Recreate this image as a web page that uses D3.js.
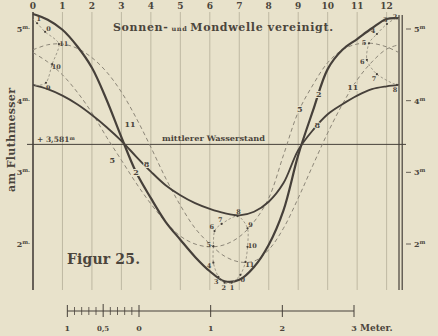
<!DOCTYPE html>
<html>
<head>
<meta charset="utf-8">
<script src="https://cdn.jsdelivr.net/npm/d3@7"></script>
<style>
  html, body { margin: 0; padding: 0; background: #e8e2cb; }
  svg { display: block; }
  text { font-family: "DejaVu Serif", "Liberation Serif", serif; fill: #4b453c; }
</style>
</head>
<body>
<div id="chart"></div>
<script>
// hours of the half lunar day (0 .. 12h 25m)
const hourTicks = [0, 1, 2, 3, 4, 5, 6, 7, 8, 9, 10, 11, 12];
const dayEnd = 12.42;
const timeSteps = [0, 0.5, 1, 1.5, 2, 2.5, 3, 3.5, 4, 4.5, 5, 5.5, 6, 6.5, 7, 7.5, 8, 8.5, 9, 9.5, 10, 10.5, 11, 11.5, 12, 12.42];
const levelTicks = [5, 4, 3, 2];

// water level (m, am Fluthmesser) for sun phases 2, 5, 8, 11
const phase2 = [5.21, 5.13, 4.99, 4.76, 4.46, 4.01, 3.49, 3.00, 2.64, 2.31, 2.06, 1.82, 1.62, 1.48, 1.50, 1.68, 1.99, 2.47, 3.24, 3.86, 4.44, 4.71, 4.86, 5.01, 5.14, 5.15];
const phase8 = [4.22, 4.16, 4.07, 3.95, 3.80, 3.63, 3.44, 3.22, 3.01, 2.82, 2.68, 2.57, 2.49, 2.43, 2.40, 2.45, 2.59, 2.85, 3.31, 3.59, 3.81, 3.95, 4.07, 4.16, 4.20, 4.22];
const phase5 = [4.67, 4.54, 4.36, 4.12, 3.83, 3.49, 3.17, 2.85, 2.56, 2.31, 2.11, 2.00, 1.96, 1.99, 2.10, 2.31, 2.64, 3.24, 3.84, 4.22, 4.53, 4.71, 4.79, 4.80, 4.75, 4.67];
const phase11 = [4.71, 4.78, 4.79, 4.73, 4.60, 4.40, 4.12, 3.76, 3.35, 2.92, 2.54, 2.22, 2.00, 1.83, 1.75, 1.76, 1.92, 2.22, 2.64, 3.10, 3.55, 3.95, 4.29, 4.54, 4.72, 4.78];

const meanLevel = 3.39;
const meanLabel = '+ 3,581';

// high / low water positions for sun phases 0..11
const loopNumbers = [0, 1, 2, 3, 4, 5, 6, 7, 8, 9, 10, 11];
const highHours = [0.41, 0.14, -0.07, -0.41, -0.75, -1.02, -1.09, -0.75, -0.07, 0.44, 0.65, 0.88];
const highLevels = [4.96, 5.08, 5.15, 5.07, 4.93, 4.80, 4.57, 4.37, 4.22, 4.25, 4.51, 4.79];
const lowHours = [7.04, 6.74, 6.50, 6.29, 6.12, 6.12, 6.16, 6.40, 6.94, 7.28, 7.28, 7.21];
const lowLevels = [1.57, 1.46, 1.46, 1.54, 1.74, 1.97, 2.18, 2.28, 2.39, 2.22, 1.96, 1.75];

// metre scale bar
const scaleMajor = [-1, 0, 1, 2, 3];
const scaleMajorLabels = ['1', '0', '1', '2', '3'];
const scaleMinor = [-0.9, -0.8, -0.7, -0.6, -0.4, -0.3, -0.2, -0.1];

const W = 438, H = 336;
const paper = '#e8e2cb', ink = '#46403a', grid = '#b4ad98', dash = '#8c8678';

const svg = d3.select('#chart').append('svg').attr('width', W).attr('height', H);
svg.append('rect').attr('width', W).attr('height', H).attr('fill', paper);

const x = d3.scaleLinear().domain([0, dayEnd]).range([33, 399]);
const y = d3.scaleLinear().domain([2, 5]).range([244, 29]);
const gTop = 12, gBottom = 290;

// vertical hour lines
svg.append('g').selectAll('line').data(hourTicks).join('line')
  .attr('x1', d => x(d)).attr('x2', d => x(d))
  .attr('y1', gTop).attr('y2', gBottom)
  .attr('stroke', d => d === 0 ? ink : grid)
  .attr('stroke-width', d => d === 0 ? 1.6 : 0.8);

// right double border
svg.append('g').selectAll('line').data([0, 3.2]).join('line')
  .attr('x1', d => x(dayEnd) + d).attr('x2', d => x(dayEnd) + d)
  .attr('y1', 15).attr('y2', gBottom)
  .attr('stroke', ink).attr('stroke-width', 1.2);

// hour labels
svg.append('g').selectAll('text').data(hourTicks).join('text')
  .attr('x', d => x(d)).attr('y', 9)
  .attr('text-anchor', 'middle').attr('font-size', 9).attr('font-weight', 'bold')
  .text(d => d);

// left level labels
const lt = svg.append('g').selectAll('text').data(levelTicks).join('text')
  .attr('x', 30).attr('y', d => y(d) + 3)
  .attr('text-anchor', 'end').attr('font-size', 8).attr('font-weight', 'bold');
lt.append('tspan').text(d => d);
lt.append('tspan').attr('font-size', 5.5).attr('dy', -3).text('m.');

// right level labels
svg.append('g').selectAll('line').data(levelTicks).join('line')
  .attr('x1', 406).attr('x2', 411).attr('y1', d => y(d)).attr('y2', d => y(d))
  .attr('stroke', ink).attr('stroke-width', 0.8);
const rt = svg.append('g').selectAll('text').data(levelTicks).join('text')
  .attr('x', 414).attr('y', d => y(d) + 3)
  .attr('font-size', 8).attr('font-weight', 'bold');
rt.append('tspan').text(d => d);
rt.append('tspan').attr('font-size', 5.5).attr('dy', -3).text('m');

// mean water level
svg.append('line')
  .attr('x1', 27).attr('x2', 406).attr('y1', y(meanLevel)).attr('y2', y(meanLevel))
  .attr('stroke', ink).attr('stroke-width', 1);
const ml = svg.append('text').attr('x', 37).attr('y', y(meanLevel) - 2)
  .attr('font-size', 7.5).attr('font-weight', 'bold');
ml.append('tspan').text(meanLabel);
ml.append('tspan').attr('font-size', 5).attr('dy', -2.5).text('m');
svg.append('text').attr('x', 162).attr('y', y(meanLevel) - 3)
  .attr('font-size', 7.5).attr('font-weight', 'bold')
  .attr('textLength', 103).attr('lengthAdjust', 'spacingAndGlyphs')
  .text('mittlerer Wasserstand');

// curves
const line = d3.line()
  .x((d, i) => x(timeSteps[i]))
  .y(d => y(d))
  .curve(d3.curveCatmullRom.alpha(0.5));

const curves = svg.append('g').attr('fill', 'none');
[phase5, phase11].forEach(s => {
  curves.append('path').attr('d', line(s))
    .attr('stroke', dash).attr('stroke-width', 1).attr('stroke-dasharray', '4,3');
});

// high / low water loops
svg.append('clipPath').attr('id', 'plot')
  .append('rect').attr('x', x(0)).attr('y', 0).attr('width', x(dayEnd) - x(0)).attr('height', H);
const loopLine = d3.line().curve(d3.curveCardinalClosed.tension(0.2));
const loops = svg.append('g').attr('clip-path', 'url(#plot)');
const marks = svg.append('g');
const highPts = loopNumbers.map((n, i) => [highHours[i], highLevels[i]]);
const lowPts = loopNumbers.map((n, i) => [lowHours[i], lowLevels[i]]);
[0, dayEnd].forEach(off => {
  loops.append('path')
    .attr('d', loopLine(highPts.map(p => [x(p[0] + off), y(p[1])])))
    .attr('fill', 'none').attr('stroke', dash).attr('stroke-width', 0.8).attr('stroke-dasharray', '2.5,2');
});
loops.append('path')
  .attr('d', loopLine(lowPts.map(p => [x(p[0]), y(p[1])])))
  .attr('fill', 'none').attr('stroke', dash).attr('stroke-width', 0.8).attr('stroke-dasharray', '2.5,2');

function drawLoopMarks(pts, offsets) {
  const cx = d3.mean(pts, p => p[0]), cy = d3.mean(pts, p => p[1]);
  offsets.forEach(off => {
    pts.forEach((p, i) => {
      const h = p[0] + off;
      if (h < 0 || h > dayEnd) return;
      const px = x(h), py = y(p[1]);
      const ang = Math.atan2(py - y(cy), px - x(cx + off));
      const lx = Math.max(x(0) + 4, Math.min(x(dayEnd) - 4, px + 5 * Math.cos(ang)));
      const ly = Math.max(gTop + 7, py + 5 * Math.sin(ang) + 2.5);
      marks.append('circle').attr('cx', px).attr('cy', py).attr('r', 1.1).attr('fill', ink);
      marks.append('text')
        .attr('x', lx).attr('y', ly)
        .attr('text-anchor', 'middle').attr('font-size', 6.5).attr('font-weight', 'bold')
        .text(loopNumbers[i]);
    });
  });
}
drawLoopMarks(highPts, [0, dayEnd]);
drawLoopMarks(lowPts, [0]);

// combined waves: spring (2) and neap (8)
curves.append('path').attr('d', line(phase2)).attr('stroke', ink).attr('stroke-width', 2.2);
curves.append('path').attr('d', line(phase8)).attr('stroke', ink).attr('stroke-width', 1.9);

// phase labels on the curves
function levelAt(s, h) {
  const i = Math.max(0, Math.min(d3.bisectRight(timeSteps, h) - 1, timeSteps.length - 2));
  const t = (h - timeSteps[i]) / (timeSteps[i + 1] - timeSteps[i]);
  return s[i] + (s[i + 1] - s[i]) * t;
}
const phaseSeries = [phase2, phase5, phase8, phase11];
const phaseNames = ['2', '5', '8', '11'];
const labelHoursLeft = [3.5, 3.0, 3.75, 3.6];
const labelHoursRight = [9.7, 9.05, 9.65, 10.85];
const labelShiftLeft = [0, -9, 3, -9];
phaseSeries.forEach((s, i) => {
  [[labelHoursLeft[i], labelShiftLeft[i]], [labelHoursRight[i], 0]].forEach(([h, dx]) => {
    svg.append('text')
      .attr('x', x(h) + dx).attr('y', y(levelAt(s, h)) + 3)
      .attr('text-anchor', 'middle').attr('font-size', 8).attr('font-weight', 'bold')
      .attr('stroke', paper).attr('stroke-width', 2).attr('paint-order', 'stroke')
      .text(phaseNames[i]);
  });
});

// title
const title = svg.append('text').attr('x', 113).attr('y', 31)
  .attr('font-weight', 'bold').attr('textLength', 220).attr('lengthAdjust', 'spacing');
title.append('tspan').attr('font-size', 11).text('Sonnen-');
title.append('tspan').attr('font-size', 6.5).text(' und ');
title.append('tspan').attr('font-size', 11).text('Mondwelle vereinigt.');

// axis title
svg.append('text')
  .attr('transform', 'translate(15,140) rotate(-90)')
  .attr('text-anchor', 'middle').attr('font-size', 11).attr('font-weight', 'bold')
  .attr('textLength', 104).attr('lengthAdjust', 'spacing')
  .text('am Fluthmesser');

// figure caption
svg.append('text').attr('x', 67).attr('y', 264)
  .attr('font-size', 14).attr('font-weight', 'bold')
  .attr('textLength', 73).attr('lengthAdjust', 'spacing')
  .text('Figur 25.');

// scale bar
const sx = d3.scaleLinear().domain([0, 1]).range([139, 139 + (y(2) - y(3))]);
const sb = svg.append('g').attr('stroke', ink);
const sy = 311;
sb.append('line').attr('x1', sx(-1)).attr('x2', sx(3)).attr('y1', sy).attr('y2', sy).attr('stroke-width', 1);
sb.selectAll('.maj').data(scaleMajor).join('line').attr('class', 'maj')
  .attr('x1', d => sx(d)).attr('x2', d => sx(d)).attr('y1', sy - 6).attr('y2', sy + 6).attr('stroke-width', 1);
sb.selectAll('.min').data(scaleMinor).join('line').attr('class', 'min')
  .attr('x1', d => sx(d)).attr('x2', d => sx(d)).attr('y1', sy - 4).attr('y2', sy + 4).attr('stroke-width', 0.8);
sb.append('line').attr('x1', sx(-0.5)).attr('x2', sx(-0.5)).attr('y1', sy - 7).attr('y2', sy + 6).attr('stroke-width', 1);
svg.append('g').selectAll('text').data(scaleMajor).join('text')
  .attr('x', d => sx(d)).attr('y', 331)
  .attr('text-anchor', 'middle').attr('font-size', 8).attr('font-weight', 'bold')
  .text((d, i) => scaleMajorLabels[i]);
svg.append('text').attr('x', sx(-0.5)).attr('y', 331)
  .attr('text-anchor', 'middle').attr('font-size', 7).attr('font-weight', 'bold').text('0,5');
svg.append('text').attr('x', sx(3) + 6).attr('y', 331)
  .attr('font-size', 9).attr('font-weight', 'bold').text('Meter.');
</script>
</body>
</html>
